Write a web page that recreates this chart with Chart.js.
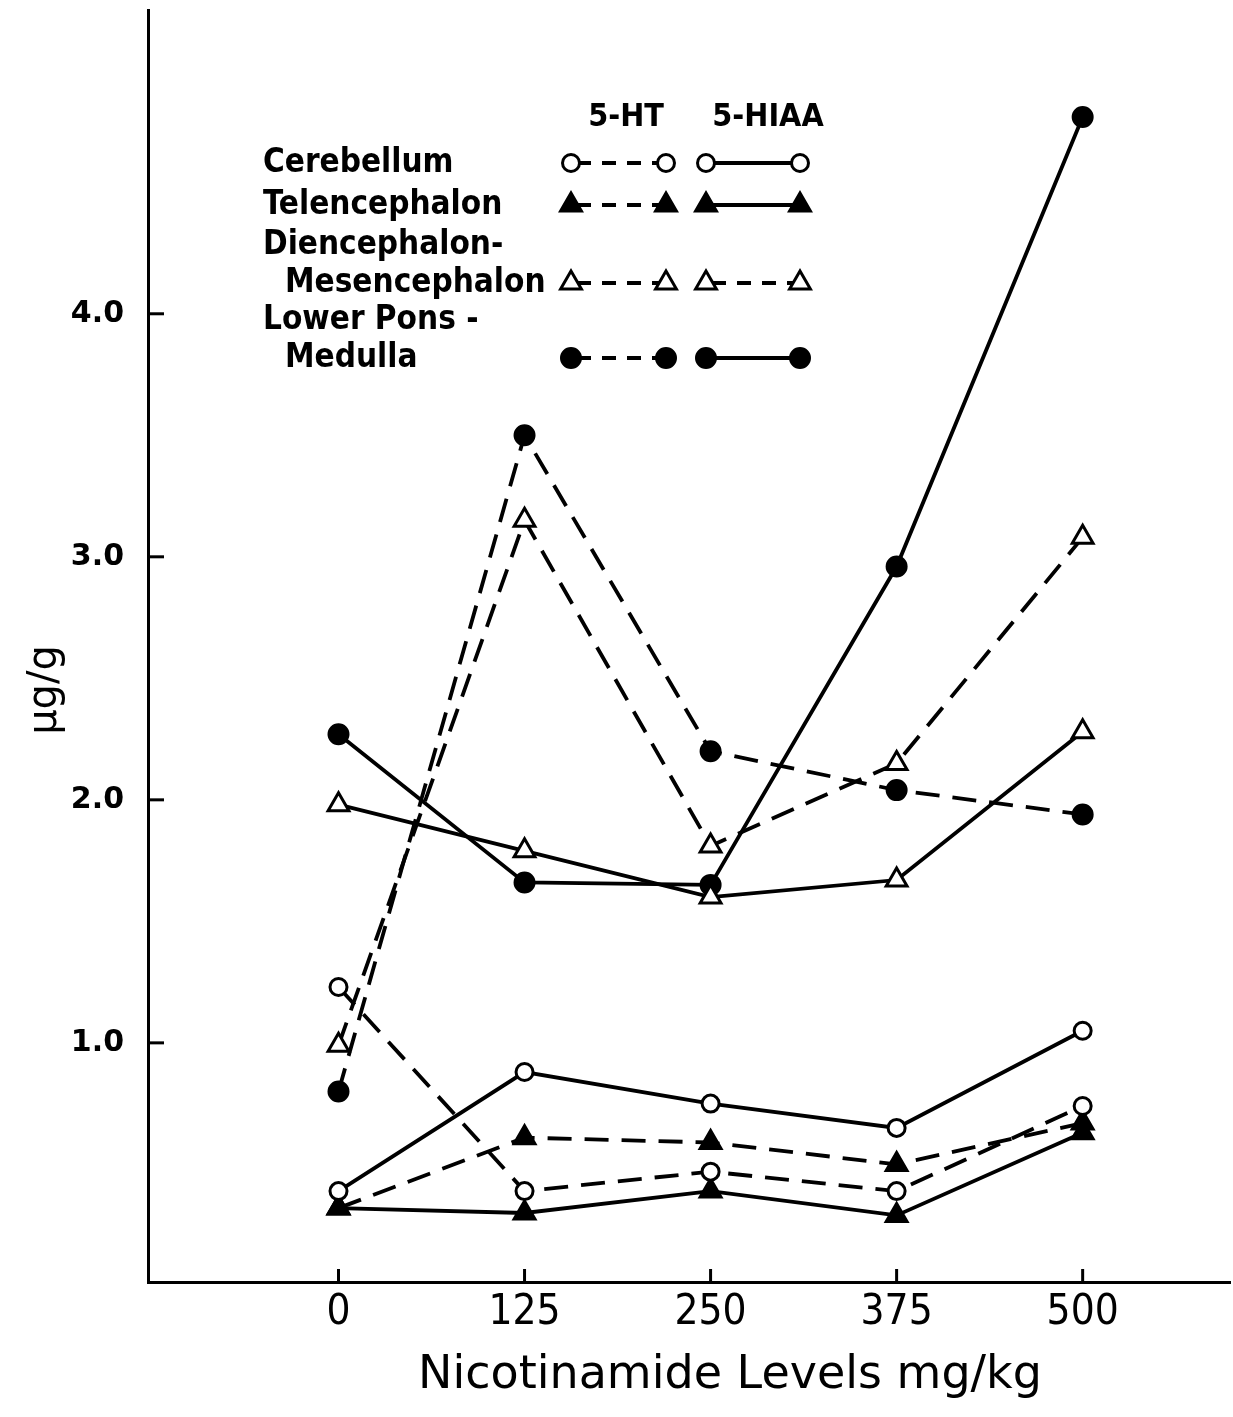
<!DOCTYPE html>
<html><head><meta charset="utf-8">
<script src="https://cdn.jsdelivr.net/npm/chart.js@4/dist/chart.umd.min.js"></script>
<style>html,body{margin:0;padding:0;background:#fff}#wrap{width:1233px;height:1417px;position:relative}</style>
</head><body><div id="wrap"><canvas id="c" width="1233" height="1417"></canvas></div>
<script>
// ---- data ----
const doses = [0, 125, 250, 375, 500];
const xTickLabels = ['0', '125', '250', '375', '500'];
const yTickValues = [1, 2, 3, 4];
const cerebellum5HT   = [1.23, 0.39, 0.47, 0.39, 0.74];
const cerebellum5HIAA = [0.39, 0.88, 0.75, 0.65, 1.05];
const telen5HT        = [0.32, 0.61, 0.59, 0.50, 0.67];
const telen5HIAA      = [0.32, 0.30, 0.39, 0.29, 0.63];
const dien5HT         = [0.99, 3.15, 1.81, 2.15, 3.08];
const dien5HIAA       = [1.98, 1.79, 1.60, 1.67, 2.28];
const pons5HT         = [0.80, 3.50, 2.20, 2.04, 1.94];
const pons5HIAA       = [2.27, 1.66, 1.65, 2.96, 4.81];
const regionNames = [['Cerebellum'], ['Telencephalon'], ['Diencephalon-', 'Mesencephalon'], ['Lower Pons -', 'Medulla']];
const seriesHeaders = ['5-HT', '5-HIAA'];
const xTitle = 'Nicotinamide Levels mg/kg';
const yTitle = 'µg/g';

// ---- styles ----
const DASH = [24, 13];
const markers = {
  openCircle:     {pointStyle: 'circle',   r: 8.5, fill: '#fff'},
  filledTriangle: {pointStyle: 'triangle', r: 12,  fill: '#000'},
  openTriangle:   {pointStyle: 'triangle', r: 12,  fill: '#fff'},
  filledCircle:   {pointStyle: 'circle',   r: 9.5, fill: '#000'}
};
function toPts(vals) { return doses.map((d, i) => ({x: d, y: vals[i]})); }
function ds(label, vals, mk, dashed) {
  const m = markers[mk];
  return {
    label, data: toPts(vals), showLine: true,
    borderColor: '#000', borderWidth: 3.8, borderDash: dashed ? DASH : [],
    pointStyle: m.pointStyle, pointRadius: m.r, pointHoverRadius: m.r,
    pointBackgroundColor: m.fill, pointBorderColor: '#000', pointBorderWidth: 3,
    fill: false, tension: 0, clip: false
  };
}
const datasets = [
  ds('Cerebellum 5-HT', cerebellum5HT, 'openCircle', true),
  ds('Cerebellum 5-HIAA', cerebellum5HIAA, 'openCircle', false),
  ds('Telencephalon 5-HT', telen5HT, 'filledTriangle', true),
  ds('Telencephalon 5-HIAA', telen5HIAA, 'filledTriangle', false),
  ds('Diencephalon-Mesencephalon 5-HT', dien5HT, 'openTriangle', true),
  ds('Diencephalon-Mesencephalon 5-HIAA', dien5HIAA, 'openTriangle', false),
  ds('Lower Pons-Medulla 5-HT', pons5HT, 'filledCircle', true),
  ds('Lower Pons-Medulla 5-HIAA', pons5HIAA, 'filledCircle', false)
];

function drawMarker(ctx, mk, x, y) {
  const m = markers[mk];
  ctx.save();
  ctx.setLineDash([]);
  ctx.lineWidth = 3; ctx.strokeStyle = '#000'; ctx.fillStyle = m.fill;
  ctx.beginPath();
  if (m.pointStyle === 'circle') {
    ctx.arc(x, y, m.r, 0, Math.PI * 2);
  } else {
    let a = 0;
    ctx.moveTo(x + Math.sin(a) * m.r, y - Math.cos(a) * m.r);
    a += Math.PI * 2 / 3;
    ctx.lineTo(x + Math.sin(a) * m.r, y - Math.cos(a) * m.r);
    a += Math.PI * 2 / 3;
    ctx.lineTo(x + Math.sin(a) * m.r, y - Math.cos(a) * m.r);
    ctx.closePath();
  }
  ctx.fill(); ctx.stroke();
  ctx.restore();
}
function drawSample(ctx, mk, x1, x2, y, dashed) {
  ctx.save();
  ctx.strokeStyle = '#000'; ctx.lineWidth = 3.8;
  ctx.setLineDash(dashed ? [14, 11] : []);
  ctx.lineDashOffset = dashed ? -6 : 0;
  ctx.beginPath(); ctx.moveTo(x1, y); ctx.lineTo(x2, y); ctx.stroke();
  ctx.restore();
  drawMarker(ctx, mk, x1, y);
  drawMarker(ctx, mk, x2, y);
}

const decorPlugin = {
  id: 'decor',
  afterDraw(chart) {
    const ctx = chart.ctx;
    const xs = chart.scales.x, ys = chart.scales.y, ca = chart.chartArea;
    // inward tick marks
    ctx.save();
    ctx.strokeStyle = '#000'; ctx.lineWidth = 3; ctx.setLineDash([]);
    ys.ticks.forEach(t => {
      const py = ys.getPixelForValue(t.value);
      ctx.beginPath(); ctx.moveTo(ca.left, py); ctx.lineTo(ca.left + 16, py); ctx.stroke();
    });
    xs.ticks.forEach(t => {
      const px = xs.getPixelForValue(t.value);
      ctx.beginPath(); ctx.moveTo(px, ca.bottom); ctx.lineTo(px, ca.bottom - 13); ctx.stroke();
    });
    ctx.restore();
    // axis titles
    ctx.save();
    ctx.fillStyle = '#000';
    ctx.textAlign = 'center'; ctx.textBaseline = 'middle';
    ctx.font = '46px "DejaVu Sans", sans-serif';
    ctx.fillText(xTitle, 730, 1376);
    ctx.font = '40px "DejaVu Sans", sans-serif';
    ctx.translate(46, 690); ctx.rotate(-Math.PI / 2);
    ctx.fillText(yTitle, 0, 0);
    ctx.restore();
    // legend
    ctx.save();
    ctx.fillStyle = '#000';
    ctx.textBaseline = 'middle';
    ctx.font = 'bold 32px "DejaVu Sans Condensed", "DejaVu Sans", sans-serif';
    ctx.textAlign = 'center';
    ctx.fillText(seriesHeaders[0], 626, 118);
    ctx.fillText(seriesHeaders[1], 768, 118);
    ctx.textAlign = 'left';
    ctx.font = 'bold 33px "DejaVu Sans Condensed", "DejaVu Sans", sans-serif';
    const rowY = [[163], [205], [245, 283], [320, 358]];
    const rowMk = ['openCircle', 'filledTriangle', 'openTriangle', 'filledCircle'];
    const hiaaDashed = [false, false, true, false];
    regionNames.forEach((lines, i) => {
      lines.forEach((txt, j) => {
        ctx.fillText(txt, j === 0 ? 263 : 285, rowY[i][j]);
      });
      const sy = rowY[i][rowY[i].length - 1];
      drawSample(ctx, rowMk[i], 571, 666, sy, true);
      drawSample(ctx, rowMk[i], 706, 800, sy, hiaaDashed[i]);
    });
    ctx.restore();
  }
};

new Chart(document.getElementById('c'), {
  type: 'scatter',
  data: {datasets},
  plugins: [decorPlugin],
  options: {
    responsive: false, animation: false, devicePixelRatio: 1,
    layout: {autoPadding: false, padding: {top: 10, right: 3, left: 0, bottom: 0}},
    plugins: {legend: {display: false}, tooltip: {enabled: false}},
    scales: {
      x: {
        type: 'linear', min: -128, max: 599,
        afterBuildTicks: s => { s.ticks = doses.map(v => ({value: v})); },
        afterFit: s => { s.height = 135; s.paddingLeft = 0; s.paddingRight = 0; },
        grid: {display: true, drawOnChartArea: false, drawTicks: false},
        border: {display: true, color: '#000', width: 3},
        ticks: {
          padding: 6, color: '#000', maxRotation: 0, autoSkip: false,
          font: {family: '"DejaVu Sans Condensed", sans-serif', size: 42},
          callback: (v, i) => xTickLabels[i]
        },
        title: {display: false}
      },
      y: {
        type: 'linear', min: 0.016, max: 5.25,
        afterBuildTicks: s => { s.ticks = yTickValues.map(v => ({value: v})); },
        afterFit: s => { s.width = 148; s.paddingTop = 0; s.paddingBottom = 0; },
        grid: {display: true, drawOnChartArea: false, drawTicks: false},
        border: {display: true, color: '#000', width: 3},
        ticks: {
          padding: 24, color: '#000', autoSkip: false,
          font: {family: '"DejaVu Sans", sans-serif', size: 30, weight: 'bold'},
          callback: v => Number(v).toFixed(1)
        },
        title: {display: false}
      }
    }
  }
});
</script></body></html>
